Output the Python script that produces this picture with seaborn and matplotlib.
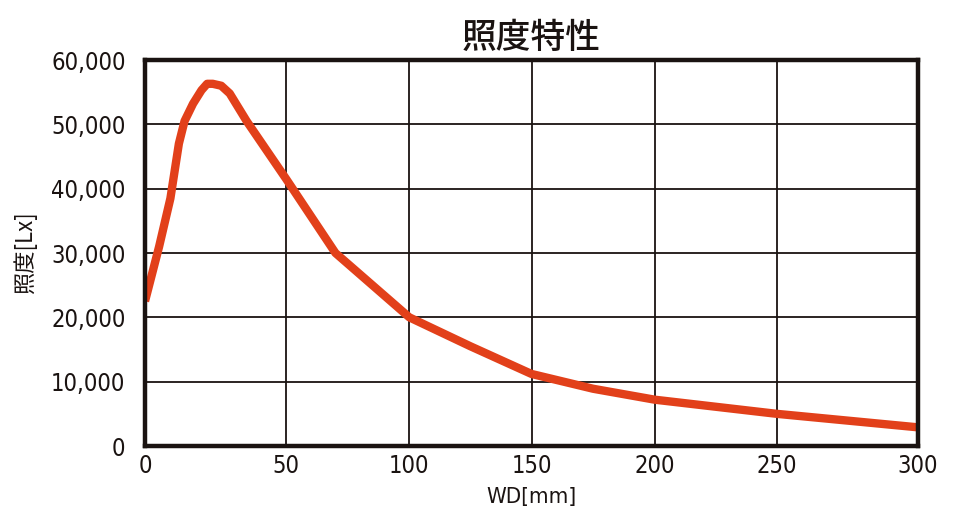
import numpy as np
import pandas as pd
import matplotlib
matplotlib.use("Agg")
import matplotlib.pyplot as plt
import seaborn as sns
from matplotlib import font_manager as fm

# data
wd_mm = [0, 5, 9, 12, 14, 17, 20, 22, 24, 27, 30, 36, 50, 70, 100, 125, 150, 175, 200, 250, 300]
lux = [22500, 31000, 38500, 47000, 50500, 53200, 55300, 56300, 56300, 56000, 54800, 50500, 41500,
       30000, 20000, 15500, 11200, 8900, 7200, 5000, 2900]
x_ticks = [0, 50, 100, 150, 200, 250, 300]
y_ticks = [0, 10000, 20000, 30000, 40000, 50000, 60000]
title = "照度特性"
x_label = "WD[mm]"
y_label = "照度[Lx]"

sns.set_style("white")
plt.rcParams['font.family'] = ['Noto Sans CJK JP', 'DejaVu Sans']

cond_names = [f.name for f in fm.fontManager.ttflist]
tick_family = 'DejaVu Sans'
for cand in ['Liberation Sans Narrow', 'DejaVu Sans Condensed']:
    if cand in cond_names:
        tick_family = cand
        break

df = pd.DataFrame({"WD": wd_mm, "Lx": lux})

fig = plt.figure(figsize=(9.74, 5.26), dpi=100)
ax = fig.add_axes([145 / 974, 1 - 446 / 526, 773 / 974, 386 / 526])

# reference axis has slightly wider outer intervals
_src = np.array([0, 50, 100, 150, 200, 250, 300], dtype=float)
_dst = np.array([0, 141, 264, 386, 509, 631, 772], dtype=float)
ax.set_xscale("function", functions=(lambda v: np.interp(v, _src, _dst),
                                     lambda v: np.interp(v, _dst, _src)))

sns.lineplot(data=df, x="WD", y="Lx", ax=ax, color="#E2401A", linewidth=6,
             solid_joinstyle="round", solid_capstyle="butt", zorder=5)

ax.set_xlim(0, 300)
ax.set_ylim(0, 60000)
ax.set_xticks(x_ticks)
ax.set_xticklabels([str(t) for t in x_ticks])
ax.set_yticks(y_ticks)
ax.set_yticklabels([f"{t:,}" for t in y_ticks])
ax.tick_params(axis="both", length=0, colors="#1a1311")
ax.tick_params(axis="y", pad=14)
ax.tick_params(axis="x", pad=6)
for lab in ax.get_xticklabels() + ax.get_yticklabels():
    lab.set_fontfamily(tick_family)
    lab.set_fontstretch('condensed')
    lab.set_fontsize(17)

ax.grid(True, color="#1a1311", linewidth=1.3)
for s in ax.spines.values():
    s.set_visible(True)
    s.set_color("#1a1311")
    s.set_linewidth(3.2)
    s.set_zorder(6)

ax.set_xlabel(x_label, fontsize=16, labelpad=6, color="#1a1311",
              family=[tick_family, 'Noto Sans CJK JP'], fontstretch='condensed')
ax.set_ylabel(y_label, fontsize=16, labelpad=10, color="#1a1311",
              family=['Noto Sans CJK JP', 'DejaVu Sans'])
ax.set_title(title, fontsize=25, pad=9, color="#1a1311", fontweight="medium")

fig.savefig("out.png", dpi=100)
